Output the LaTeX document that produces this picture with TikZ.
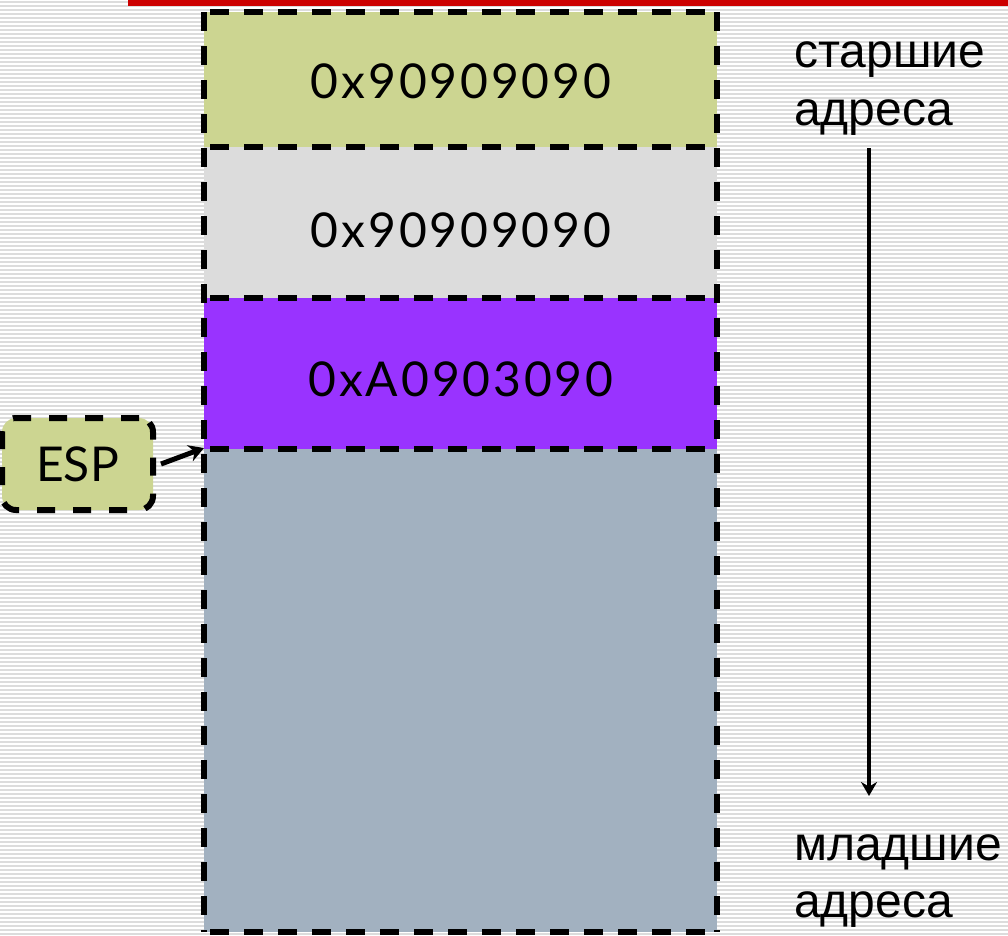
\documentclass[tikz,border=0pt]{standalone}
\usepackage{fontspec}
\setmainfont{Lato}
\newfontfamily\ruFont{Liberation Sans}
\usetikzlibrary{arrows.meta}
\definecolor{stripe}{HTML}{DCDCDC}
\definecolor{topred}{HTML}{CC0000}
\definecolor{cellgreen}{HTML}{CCD591}
\definecolor{cellgray}{HTML}{DCDCDC}
\definecolor{cellpurple}{HTML}{9933FF}
\definecolor{cellblue}{HTML}{A2B1C0}
\tikzset{
  cell/.style={draw=black, line width=6pt, dash pattern=on 19pt off 15pt},
  hexlabel/.style={font=\fontsize{48}{56}\selectfont\addfontfeature{LetterSpace=6}, text=black, anchor=base, inner sep=0pt},
  rulabel/.style={font=\ruFont\fontsize{48}{56}\selectfont, anchor=base west, inner sep=0pt},
}
\begin{document}
\begin{tikzpicture}[x=1pt,y=-1pt]
  \useasboundingbox (0,0) rectangle (1008,935);
  \fill[white] (0,0) rectangle (1008,935);
  % striped slide background
  \foreach \k in {0,...,233} {
    \draw[stripe, line width=1.2pt] (0,\k*4+2) -- (1008,\k*4+2);
  }
  % red bar along the top edge
  \fill[topred] (128,0) rectangle (1008,6);

  % stack cells
  \fill[cellgreen]  (204,12)  rectangle (717,147);
  \fill[cellgray]   (204,147) rectangle (717,298);
  \fill[cellpurple] (204,298) rectangle (717,449);
  \fill[cellblue]   (204,449) rectangle (717,932);
  % cell borders, each edge drawn once
  \draw[cell] (204,12) -- (204,932);
  \draw[cell] (717,12) -- (717,932);
  \foreach \yy in {12,147,298,449,932} {
    \draw[cell] (210,\yy) -- (717,\yy);
  }
  \coordinate (top) at (204,448);

  \node[hexlabel] (c1) at (461,98)  {0x90909090};
  \node[hexlabel] (c2) at (461,247) {0x90909090};
  \node[hexlabel] (c3) at (461,396) {0xA0903090};

  % stack pointer
  \node[draw=black, fill=cellgreen, line width=6pt, dash pattern=on 18pt off 18pt,
        rounded corners=14pt, minimum width=151pt, minimum height=92pt,
        font=\fontsize{48}{56}\selectfont] (esp) at (77.5,464) {ESP};
  \coordinate (espout) at ([xshift=5pt]esp.east);
  \draw[line width=5pt, -{Stealth[length=15pt,width=17pt]}] (espout) -- (top);

  % address direction
  \node[rulabel] (hi1) at (794,67)  {старшие};
  \node[rulabel] (hi2) at (794,125) {адреса};
  \node[rulabel] (lo1) at (794,860) {младшие};
  \node[rulabel] (lo2) at (794,917) {адреса};
  \coordinate (arrtop) at (869,148);
  \coordinate (arrbot) at (869,796);
  \draw[line width=4pt, -{Stealth[length=14pt,width=16pt]}] (arrtop) -- (arrbot);
\end{tikzpicture}
\end{document}
